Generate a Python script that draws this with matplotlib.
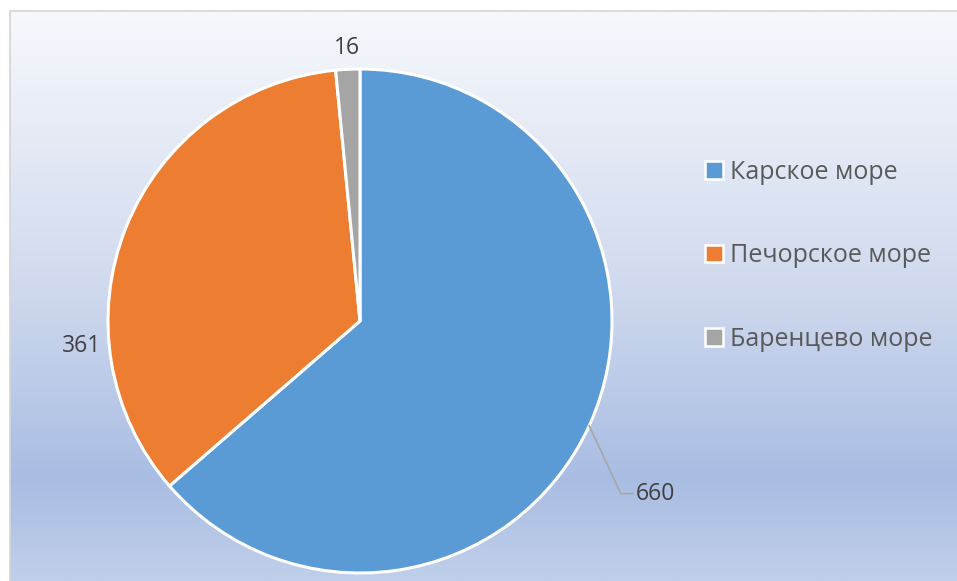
import numpy as np
import matplotlib.pyplot as plt
from matplotlib.patches import Patch
from matplotlib.colors import LinearSegmentedColormap

# Data
seas = ["Карское море", "Печорское море", "Баренцево море"]
counts = [660, 361, 16]
colors = ["#5B9BD5", "#ED7D31", "#A5A5A5"]

W, H = 957, 581
plt.rcParams['font.family'] = ['Open Sans', 'DejaVu Sans']

fig = plt.figure(figsize=(W / 100, H / 100), dpi=100)
fig.patch.set_facecolor("white")

# background panel with vertical gradient and thin grey frame
bg = fig.add_axes([0, 0, 1, 1])
bg.set_xlim(0, W)
bg.set_ylim(H, 0)
bg.axis("off")
grad = LinearSegmentedColormap.from_list(
    "bg", [(0, "#f6f8fc"), (0.45, "#d3dcef"), (0.82, "#a9bde3"), (1, "#c0cfea")])
g = np.linspace(0, 1, 256).reshape(-1, 1)
bg.imshow(g, cmap=grad, aspect="auto", extent=(10, W, H, 11), zorder=0)
bg.plot([9.5, 9.5, W], [H, 10.5, 10.5], color="#d4d4d4", lw=1.2, zorder=1)

# pie
cx, cy, r = 360, 321, 252
ax = fig.add_axes([(cx - r) / W, (H - cy - r) / H, 2 * r / W, 2 * r / H])
wedges, _ = ax.pie(counts, colors=colors, startangle=90, counterclock=False,
                   wedgeprops=dict(edgecolor="white", linewidth=2.2))
ax.set_xlim(-1, 1)
ax.set_ylim(-1, 1)
ax.set_aspect("equal")
ax.axis("off")

lab_kw = dict(fontsize=16.5, color="#404040", annotation_clip=False)

# 660 with leader line
w = wedges[0]
a = np.deg2rad((w.theta1 + w.theta2) / 2)
ex, ey = np.cos(a), np.sin(a)
ax.plot([ex, 1.035, 1.083], [ey, -0.685, -0.685], color="#a6a6a6", lw=1.2,
        clip_on=False)
ax.annotate(str(counts[0]), (1.095, -0.685), ha="left", va="center", **lab_kw)

# 361
ax.annotate(str(counts[1]), (-1.105, -0.10), ha="center", va="center", **lab_kw)

# 16
w = wedges[2]
a = np.deg2rad((w.theta1 + w.theta2) / 2)
ax.annotate(str(counts[2]), (1.085 * np.cos(a), 1.085 * np.sin(a)),
            ha="center", va="center", **lab_kw)

# legend
handles = [Patch(facecolor=c, edgecolor="white", linewidth=1.8) for c in colors]
fig.legend(handles, seas, loc="upper left", bbox_to_anchor=(687 / W, 1 - 142 / H),
           frameon=False, fontsize=18, labelcolor="#595959",
           handlelength=0.72, handleheight=0.72, handletextpad=0.3,
           labelspacing=2.35, borderpad=0.2)

fig.savefig("out.png", dpi=100, facecolor="white")
